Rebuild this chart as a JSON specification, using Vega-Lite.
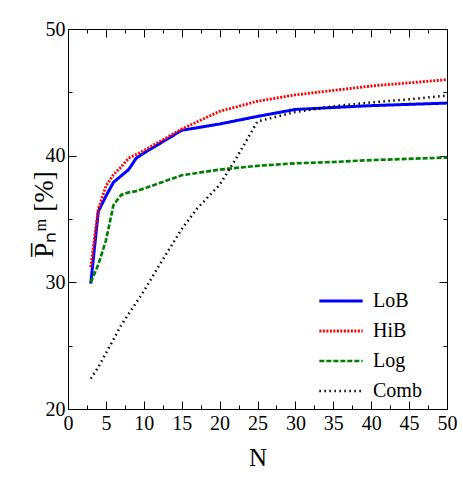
{
  "$schema": "https://vega.github.io/schema/vega-lite/v6.json",
  "autosize": "none",
  "padding": {"left": 68, "top": 29, "right": 16, "bottom": 69},
  "width": 379,
  "height": 380,
  "background": "white",
  "config": {
    "view": {"stroke": "black", "strokeWidth": 1},
    "font": "Liberation Serif",
    "axis": {"labelFont": "Liberation Serif", "titleFont": "Liberation Serif"},
    "legend": {"labelFont": "Liberation Serif"}
  },
  "data": {"values": [
    {"N": 3, "v": 29.9, "s": "LoB"}, {"N": 4, "v": 35.6, "s": "LoB"}, {"N": 5, "v": 36.8, "s": "LoB"},
    {"N": 6, "v": 37.9, "s": "LoB"}, {"N": 7, "v": 38.4, "s": "LoB"}, {"N": 8, "v": 38.9, "s": "LoB"},
    {"N": 9, "v": 39.8, "s": "LoB"}, {"N": 10, "v": 40.2, "s": "LoB"}, {"N": 15, "v": 42.0, "s": "LoB"},
    {"N": 20, "v": 42.5, "s": "LoB"}, {"N": 25, "v": 43.1, "s": "LoB"}, {"N": 30, "v": 43.65, "s": "LoB"},
    {"N": 35, "v": 43.8, "s": "LoB"}, {"N": 40, "v": 43.95, "s": "LoB"}, {"N": 45, "v": 44.05, "s": "LoB"},
    {"N": 50, "v": 44.15, "s": "LoB"},
    {"N": 3, "v": 31.2, "s": "HiB"}, {"N": 4, "v": 35.8, "s": "HiB"}, {"N": 5, "v": 37.6, "s": "HiB"},
    {"N": 6, "v": 38.5, "s": "HiB"}, {"N": 7, "v": 39.1, "s": "HiB"}, {"N": 8, "v": 39.8, "s": "HiB"},
    {"N": 9, "v": 40.1, "s": "HiB"}, {"N": 10, "v": 40.4, "s": "HiB"}, {"N": 15, "v": 42.1, "s": "HiB"},
    {"N": 20, "v": 43.5, "s": "HiB"}, {"N": 25, "v": 44.3, "s": "HiB"}, {"N": 30, "v": 44.8, "s": "HiB"},
    {"N": 35, "v": 45.15, "s": "HiB"}, {"N": 40, "v": 45.5, "s": "HiB"}, {"N": 45, "v": 45.75, "s": "HiB"},
    {"N": 50, "v": 46.0, "s": "HiB"},
    {"N": 3, "v": 30.0, "s": "Log"}, {"N": 4, "v": 31.4, "s": "Log"}, {"N": 5, "v": 33.3, "s": "Log"},
    {"N": 6, "v": 36.1, "s": "Log"}, {"N": 7, "v": 36.9, "s": "Log"}, {"N": 8, "v": 37.1, "s": "Log"},
    {"N": 9, "v": 37.2, "s": "Log"}, {"N": 10, "v": 37.4, "s": "Log"}, {"N": 15, "v": 38.45, "s": "Log"},
    {"N": 20, "v": 38.9, "s": "Log"}, {"N": 25, "v": 39.2, "s": "Log"}, {"N": 30, "v": 39.4, "s": "Log"},
    {"N": 35, "v": 39.5, "s": "Log"}, {"N": 40, "v": 39.65, "s": "Log"}, {"N": 45, "v": 39.75, "s": "Log"},
    {"N": 50, "v": 39.85, "s": "Log"},
    {"N": 3, "v": 22.4, "s": "Comb"}, {"N": 4, "v": 23.3, "s": "Comb"}, {"N": 5, "v": 24.4, "s": "Comb"},
    {"N": 6, "v": 25.5, "s": "Comb"}, {"N": 7, "v": 26.6, "s": "Comb"}, {"N": 8, "v": 27.5, "s": "Comb"},
    {"N": 9, "v": 28.4, "s": "Comb"}, {"N": 10, "v": 29.3, "s": "Comb"}, {"N": 12, "v": 31.3, "s": "Comb"},
    {"N": 15, "v": 34.2, "s": "Comb"}, {"N": 17, "v": 35.8, "s": "Comb"}, {"N": 20, "v": 37.7, "s": "Comb"},
    {"N": 22, "v": 39.6, "s": "Comb"}, {"N": 25, "v": 42.7, "s": "Comb"}, {"N": 30, "v": 43.45, "s": "Comb"},
    {"N": 35, "v": 43.9, "s": "Comb"}, {"N": 40, "v": 44.2, "s": "Comb"}, {"N": 45, "v": 44.45, "s": "Comb"},
    {"N": 50, "v": 44.75, "s": "Comb"}
  ]},
  "resolve": {"axis": {"x": "independent", "y": "independent"}},
  "layer": [
    {
      "mark": {"type": "line", "clip": true},
      "encoding": {
        "x": {"field": "N", "type": "quantitative",
          "scale": {"domain": [0, 50], "nice": false, "zero": false},
          "axis": {
            "orient": "bottom",
            "values": [0, 2.5, 5, 7.5, 10, 12.5, 15, 17.5, 20, 22.5, 25, 27.5, 30, 32.5, 35, 37.5, 40, 42.5, 45, 47.5, 50],
            "tickSize": {"condition": {"test": "datum.value % 5 === 0", "value": -8}, "value": -4},
            "tickColor": "black", "domainColor": "black", "grid": false,
            "labelExpr": "datum.value % 5 === 0 ? datum.label : ''",
            "labelFont": "Liberation Serif", "labelFontSize": 20, "labelColor": "black",
            "labelPadding": 12, "labelFlush": false, "labelOverlap": false,
            "title": "N", "titleFont": "Liberation Serif", "titleFontSize": 25,
            "titleFontWeight": "normal", "titleColor": "black", "titlePadding": 8
          }},
        "y": {"field": "v", "type": "quantitative",
          "scale": {"domain": [20, 50], "nice": false, "zero": false},
          "axis": {
            "orient": "left",
            "values": [20, 25, 30, 35, 40, 45, 50],
            "tickSize": {"condition": {"test": "datum.value % 10 === 0", "value": -8}, "value": -4},
            "tickColor": "black", "domainColor": "black", "grid": false,
            "labelExpr": "datum.value % 10 === 0 ? datum.label : ''",
            "labelFont": "Liberation Serif", "labelFontSize": 20, "labelColor": "black",
            "labelPadding": 11, "labelFlush": false, "labelOverlap": false,
            "title": "P\u0305\u2099\u1d50 [%]", "titleFont": "Liberation Serif", "titleFontSize": 27,
            "titleFontWeight": "normal", "titleColor": "black", "titlePadding": -13, "titleY": 185
          }},
        "color": {"field": "s", "type": "nominal",
          "scale": {"domain": ["LoB", "HiB", "Log", "Comb"], "range": ["#0000ff", "#ff0000", "#008000", "#000000"]},
          "legend": {
            "title": null, "orient": "none", "legendX": 253, "legendY": 252,
            "symbolType": "M-1.17,0H1.17", "symbolSize": 1369, "symbolStrokeWidth": 3,
            "labelFont": "Liberation Serif", "labelFontSize": 20, "labelColor": "black",
            "labelOffset": 12, "rowPadding": 0, "padding": 0
          }},
        "strokeDash": {"field": "s", "type": "nominal",
          "scale": {"domain": ["LoB", "HiB", "Log", "Comb"], "range": [[1, 0], [2, 1.5], [5, 2], [1.5, 3.5]]}},
        "strokeWidth": {"field": "s", "type": "nominal",
          "scale": {"domain": ["LoB", "HiB", "Log", "Comb"], "range": [3, 2.5, 3.5, 2.2]}, "legend": null}
      }
    },
    {
      "mark": {"type": "point", "opacity": 0},
      "encoding": {
        "x": {"field": "N", "type": "quantitative",
          "axis": {
            "orient": "top",
            "values": [0, 2.5, 5, 7.5, 10, 12.5, 15, 17.5, 20, 22.5, 25, 27.5, 30, 32.5, 35, 37.5, 40, 42.5, 45, 47.5, 50],
            "tickSize": {"condition": {"test": "datum.value % 5 === 0", "value": -8}, "value": -4},
            "tickColor": "black", "domainColor": "black", "grid": false, "labels": false, "title": null
          }},
        "y": {"field": "v", "type": "quantitative",
          "axis": {
            "orient": "right",
            "values": [20, 25, 30, 35, 40, 45, 50],
            "tickSize": {"condition": {"test": "datum.value % 10 === 0", "value": -8}, "value": -4},
            "tickColor": "black", "domainColor": "black", "grid": false, "labels": false, "title": null
          }}
      }
    }
  ]
}
